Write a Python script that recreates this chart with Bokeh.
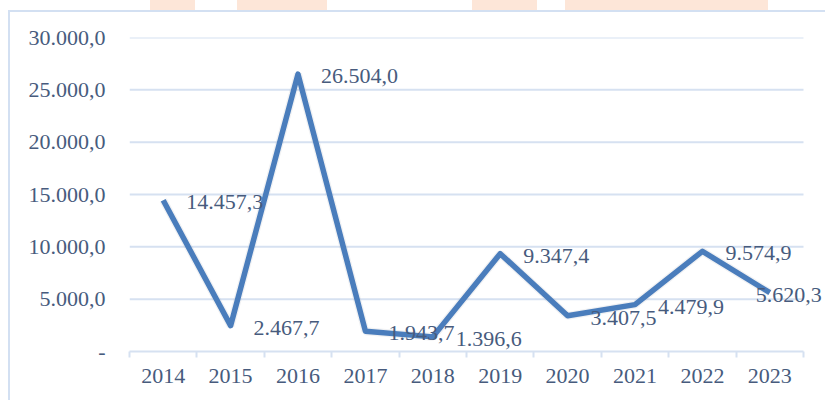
from bokeh.plotting import figure
from bokeh.models import ColumnDataSource, LabelSet, FixedTicker, Range1d
from bokeh.embed import file_html
from bokeh.resources import INLINE

# ---- data ----
years = ["2014", "2015", "2016", "2017", "2018", "2019", "2020", "2021", "2022", "2023"]
values = [14457.3, 2467.7, 26504.0, 1943.7, 1396.6, 9347.4, 3407.5, 4479.9, 9574.9, 5620.3]
y_ticks = [0, 5000, 10000, 15000, 20000, 25000, 30000]
y_tick_labels = ["-", "5.000,0", "10.000,0", "15.000,0", "20.000,0", "25.000,0", "30.000,0"]


def eu(v):
    s = f"{v:,.1f}"
    return s.replace(",", "X").replace(".", ",").replace("X", ".")


n = len(years)
xs = [i + 0.5 for i in range(n)]
labels = [eu(v) for v in values]
# labels sit to the right of each point; the last one is pulled back inside the chart
label_dx = [23] * (n - 1) + [-14]
src = ColumnDataSource(dict(x=xs, y=values, label=labels, dx=label_dx))

TEXT = "#475B7D"
GRID = "#D6E1F1"
LINE = "#4A7DBC"
FONT = "Liberation Serif"

W, H = 825, 400
LEFT, RIGHT_PLOT, TOP, BOTTOM = 129, 803, 37, 351
x_end = n * (W - LEFT) / (RIGHT_PLOT - LEFT)   # frame extends to the right edge so labels fit

p = figure(width=W, height=H, output_backend="svg", toolbar_location=None,
           x_range=Range1d(0, x_end), y_range=Range1d(0, 30000),
           min_border_left=LEFT, min_border_right=0, min_border_top=TOP,
           min_border_bottom=H - BOTTOM)
p.outline_line_color = None
p.background_fill_color = None
p.border_fill_color = None

B = "#D3E0F2"
P = "#FDE6D8"
p.styles = {
    "background-color": "white",
    "background-image": ", ".join([f"linear-gradient({B},{B})"] * 2 + [f"linear-gradient({P},{P})"] * 4),
    "background-size": "2px 400px, 825px 2px, 45px 10px, 90px 10px, 65px 10px, 203px 10px",
    "background-position": "8px 10px, 8px 10px, 150px 0px, 237px 0px, 472px 0px, 565px 0px",
    "background-repeat": "no-repeat",
}

# grid lines (limited to the category span)
p.segment(x0=0, x1=n, y0=y_ticks[1:], y1=y_ticks[1:], line_color=GRID, line_width=2)

# soft shadow + main line
p.line(xs, values, line_color="#9AA3AE", line_width=8, line_alpha=0.15)
p.line("x", "y", source=src, line_color=LINE, line_width=5.5, line_join="round")

# y axis
p.yaxis.ticker = FixedTicker(ticks=y_ticks)
p.yaxis.major_label_overrides = {t: l for t, l in zip(y_ticks, y_tick_labels)}
p.yaxis.axis_line_color = None
p.yaxis.major_tick_line_color = None
p.yaxis.major_tick_out = 0
p.yaxis.major_tick_in = 0
p.yaxis.minor_tick_line_color = None
p.yaxis.major_label_standoff = 24
p.yaxis.major_label_text_font = FONT
p.yaxis.major_label_text_font_size = "22px"
p.yaxis.major_label_text_color = TEXT

p.xgrid.grid_line_color = None
p.ygrid.grid_line_color = None

# x axis: labels at centres, ticks at boundaries
p.xaxis.bounds = (0, n)
p.xaxis.ticker = FixedTicker(ticks=xs, minor_ticks=list(range(n + 1)))
p.xaxis.major_label_overrides = {x: y for x, y in zip(xs, years)}
p.xaxis.axis_line_color = GRID
p.xaxis.axis_line_width = 2
p.xaxis.major_tick_line_color = None
p.xaxis.major_tick_out = 0
p.xaxis.major_tick_in = 0
p.xaxis.minor_tick_line_color = GRID
p.xaxis.minor_tick_line_width = 2
p.xaxis.minor_tick_out = 6
p.xaxis.minor_tick_in = 0
p.xaxis.major_label_standoff = 11
p.xaxis.major_label_text_font = FONT
p.xaxis.major_label_text_font_size = "22px"
p.xaxis.major_label_text_color = TEXT

# data labels
ls = LabelSet(x="x", y="y", text="label", source=src, x_offset="dx", y_offset=-2,
              text_font=FONT, text_font_size="22px", text_color=TEXT,
              text_baseline="middle", text_align="left")
p.add_layout(ls)

open("out.html", "w").write(file_html(p, INLINE))
